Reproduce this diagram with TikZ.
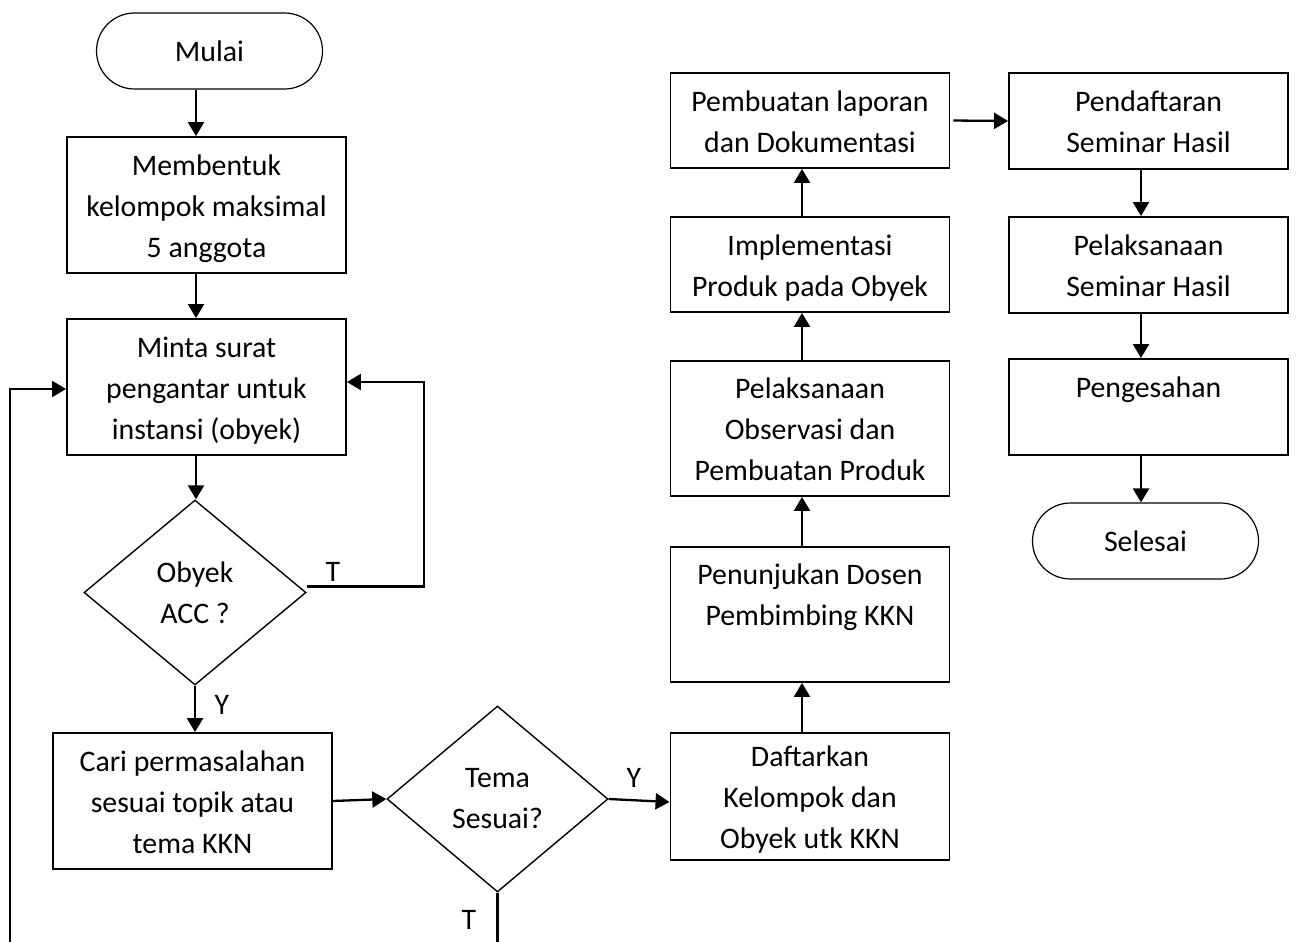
\documentclass[tikz,border=0pt]{standalone}
\usepackage{fontspec}
\setmainfont{Carlito}
\usetikzlibrary{shapes.geometric,arrows.meta}
\newcommand{\Tst}{\rule{0pt}{30pt}}
\newcommand{\Bst}{\rule[-8pt]{0pt}{8pt}}
\begin{document}
\begin{tikzpicture}[x=1pt,y=-1pt,
  txt/.style={font=\fontsize{29.8}{41}\selectfont},
  box/.style={txt,draw,rectangle,line width=1.9pt,inner sep=0pt,align=center,minimum width=279pt},
  term/.style={txt,draw,rectangle,line width=1.2pt,rounded corners=38pt,inner sep=0pt,minimum width=226pt,minimum height=76pt},
  dec/.style={txt,draw,diamond,line width=1.4pt,inner sep=0pt,align=center},
  arr/.style={line width=2.3pt,-{Triangle[length=14pt,width=16pt]}},
  lbl/.style={txt,inner sep=0pt}]
\clip (0,0) rectangle (1296,942);
\fill[white] (0,0) rectangle (1296,942);
% left column
\node[term] (mulai) at (209.5,51) {Mulai};
\node[box,minimum height=136pt] (memb) at (206.5,205) {\Tst Membentuk\\kelompok maksimal\\5 anggota\Bst};
\node[box,minimum height=136pt] (minta) at (206.5,387) {\Tst Minta surat\\pengantar untuk\\instansi (obyek)\Bst};
\node[dec,minimum width=222pt,minimum height=185pt] (obyek) at (195,592.5) {Obyek\\ACC ?};
\node[box,minimum height=136pt] (cari) at (192.5,801) {\Tst Cari permasalahan\\sesuai topik atau\\tema KKN\Bst};
\node[dec,minimum width=221pt,minimum height=186pt] (tema) at (497.5,799) {Tema\\Sesuai?};
% middle column
\node[box,minimum height=127pt] (daft) at (810,796.5) {\Tst Daftarkan\\Kelompok dan\\Obyek utk KKN\Bst};
\node[box,minimum height=135pt] (penunj) at (810,614.5) {\Tst Penunjukan Dosen\\Pembimbing KKN\\\Bst};
\node[box,minimum height=135pt] (pelak) at (810,428.5) {\Tst Pelaksanaan\\Observasi dan\\Pembuatan Produk\Bst};
\node[box,minimum height=95pt] (impl) at (810,264.5) {\Tst Implementasi\\Produk pada Obyek\Bst};
\node[box,minimum height=95pt] (pemb) at (810,120.5) {\Tst Pembuatan laporan\\dan Dokumentasi\Bst};
% right column
\node[box,minimum height=96pt] (pend) at (1148.5,121) {\Tst Pendaftaran\\Seminar Hasil\Bst};
\node[box,minimum height=96pt] (pelsem) at (1148.5,265) {\Tst Pelaksanaan\\Seminar Hasil\Bst};
\node[box,minimum height=96pt] (penges) at (1148.5,407) {\Tst Pengesahan\\\Bst};
\node[term] (selesai) at (1145.5,541) {Selesai};
% helper coordinates
\coordinate (cL) at (196,0);
\coordinate (cM) at (802,0);
\coordinate (cR) at (1141,0);
\coordinate (yY) at (0,802);
\coordinate (tTop) at (424,382);
\coordinate (lpBot) at (10,990);
\coordinate (lpTop) at (10,389);
% connectors
\draw[arr] (mulai.south -| cL) -- (memb.north -| cL);
\draw[arr] (memb.south -| cL) -- (minta.north -| cL);
\draw[arr] (minta.south -| cL) -- (obyek.north -| cL);
\draw[arr] (obyek.south) -- (cari.north -| obyek.south);
\draw[arr] (cari.east) -- (tema.west);
\draw[arr] (tema.east) -- (daft.west |- yY);
\draw[arr] (daft.north -| cM) -- (penunj.south -| cM);
\draw[arr] (penunj.north -| cM) -- (pelak.south -| cM);
\draw[arr] (pelak.north -| cM) -- (impl.south -| cM);
\draw[arr] (impl.north -| cM) -- (pemb.south -| cM);
\draw[arr,shorten <=3pt] (pemb.east) -- (pend.west);
\draw[arr] (pend.south -| cR) -- (pelsem.north -| cR);
\draw[arr] (pelsem.south -| cR) -- (penges.north -| cR);
\draw[arr] (penges.south -| cR) -- (selesai.north -| cR);
\draw[arr] ([yshift=6pt]obyek.east) -| (tTop) -- (minta.east |- tTop);
\draw[arr] (tema.south) -- (tema.south |- lpBot) -| (lpTop) -- (minta.west |- lpTop);
% labels
\node[lbl] (lT1) at (333,572) {T};
\node[lbl] (lY1) at (222,705) {Y};
\node[lbl] (lY2) at (634,778) {Y};
\node[lbl] (lT2) at (469,920) {T};
\end{tikzpicture}
\end{document}
